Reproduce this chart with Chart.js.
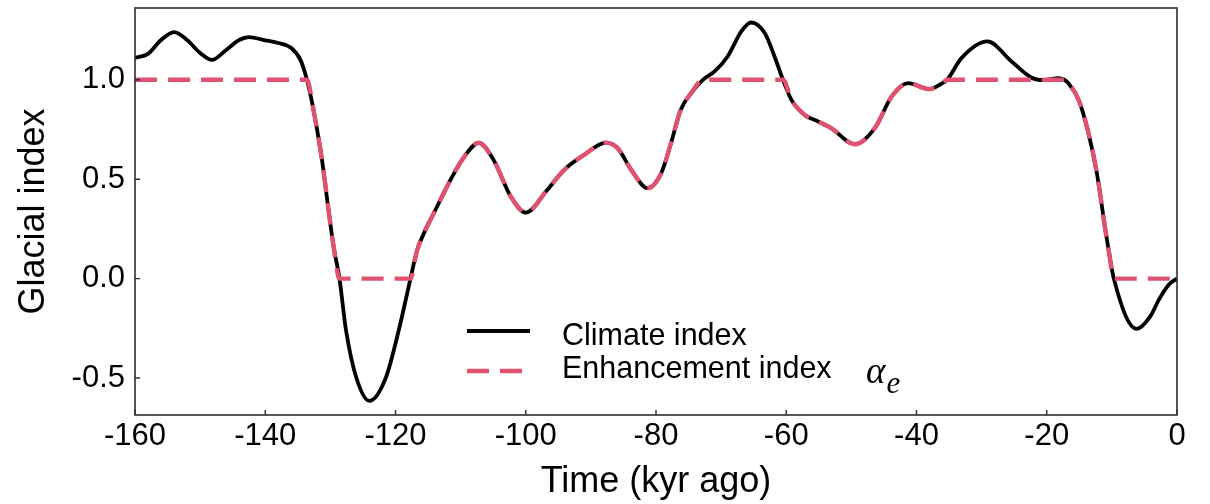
<!DOCTYPE html>
<html>
<head>
<meta charset="utf-8">
<script src="https://cdn.jsdelivr.net/npm/chart.js@4/dist/chart.umd.min.js"></script>
<style>
  html, body { margin: 0; padding: 0; background: #ffffff; }
  #wrap { width: 1210px; height: 504px; position: relative; }
</style>
</head>
<body>
<div id="wrap"><canvas id="c"></canvas></div>
<script>
// ---- data ----
const times = [-160, -158, -156, -154, -152, -150, -148.2, -146, -144, -142.5, -140, -138, -136, -134.6,
  -133.6, -132.6, -131.3, -130.3, -129.5, -128.6, -127.6, -126, -124, -121.5, -119.5, -117.7, -116.7,
  -115.4, -114.1, -111.5, -109.5, -107.2, -105, -102.3, -100, -96.7, -94.1, -91, -87.7, -85.9, -83.8,
  -81.3, -79.2, -77.7, -76.2, -74.6, -72.8, -71, -69, -66.9, -65.4, -63.3, -61.8, -60.5, -59.2, -57.2,
  -55.1, -53.1, -49.5, -46.4, -43.8, -41.3, -38, -36.2, -35.3, -33.1, -29.1, -25.4, -22.3, -20.5, -18.2,
  -17.3, -16.7, -15.1, -13.6, -12.3, -11, -10.5, -9.7, -6.2, -4.1, -2.8, -1.3, 0];

const climateIndex = [1.11, 1.13, 1.20, 1.24, 1.20, 1.135, 1.10, 1.15, 1.20, 1.215, 1.198, 1.185, 1.16, 1.10,
  1.00, 0.85, 0.60, 0.35, 0.16, 0.00, -0.26, -0.50, -0.615, -0.50, -0.26, 0.00, 0.14,
  0.245, 0.33, 0.50, 0.61, 0.683, 0.60, 0.413, 0.332, 0.446, 0.547, 0.623, 0.684, 0.656, 0.547,
  0.455, 0.53, 0.681, 0.849, 0.933, 1.00, 1.042, 1.117, 1.243, 1.288, 1.235, 1.117, 1.00, 0.899, 0.824,
  0.79, 0.757, 0.676, 0.757, 0.916, 0.983, 0.953, 0.98, 1.00, 1.109, 1.193, 1.092, 1.01, 0.998, 1.008,
  1.00, 0.983, 0.899, 0.732, 0.53, 0.245, 0.144, 0.00, -0.253, -0.19, -0.107, -0.032, 0.00];

const enhancementIndex = [1, 1, 1, 1, 1, 1, 1, 1, 1, 1, 1, 1, 1, 1,
  1.00, 0.85, 0.60, 0.35, 0.16, 0, 0, 0, 0, 0, 0, 0, 0.14,
  0.245, 0.33, 0.50, 0.61, 0.683, 0.60, 0.413, 0.332, 0.446, 0.547, 0.623, 0.684, 0.656, 0.547,
  0.455, 0.53, 0.681, 0.849, 0.933, 1.00, 1, 1, 1, 1, 1, 1, 1.00, 0.899, 0.824,
  0.79, 0.757, 0.676, 0.757, 0.916, 0.983, 0.953, 0.98, 1.00, 1, 1, 1, 1, 1, 1,
  1.00, 0.983, 0.899, 0.732, 0.53, 0.245, 0.144, 0.00, 0, 0, 0, 0, 0];

const xTicks = [-160, -140, -120, -100, -80, -60, -40, -20, 0];
const yTicks = [-0.5, 0.0, 0.5, 1.0];
const seriesNames = ['Climate index', 'Enhancement index'];

// ---- styles ----
const FONT = "'Liberation Sans', Arial, Helvetica, sans-serif";
const RED = '#e0526f';

const framePlugin = {
  id: 'frameAndLegend',
  afterDraw(chart) {
    const { ctx, chartArea: a, scales } = chart;
    const xs = scales.x, ys = scales.y;
    ctx.save();
    // frame
    ctx.strokeStyle = '#2e2e2e';
    ctx.lineWidth = 1.6;
    ctx.strokeRect(a.left, a.top, a.right - a.left, a.bottom - a.top);
    // inward ticks
    ctx.beginPath();
    ctx.lineWidth = 1.4;
    xs.ticks.forEach(t => {
      const p = xs.getPixelForValue(t.value);
      ctx.moveTo(p, a.bottom); ctx.lineTo(p, a.bottom - 5);
    });
    ys.ticks.forEach(t => {
      const p = ys.getPixelForValue(t.value);
      ctx.moveTo(a.left, p); ctx.lineTo(a.left + 5, p);
    });
    ctx.stroke();

    // legend (inside the axes, lower middle)
    const ds = chart.data.datasets;
    const sx0 = 467, sx1 = 530, tx = 562;
    ctx.beginPath();
    ctx.setLineDash([]);
    ctx.strokeStyle = ds[0].borderColor;
    ctx.lineWidth = ds[0].borderWidth;
    ctx.moveTo(sx0, 331); ctx.lineTo(sx1, 331);
    ctx.stroke();
    ctx.beginPath();
    ctx.setLineDash(ds[1].borderDash);
    ctx.strokeStyle = ds[1].borderColor;
    ctx.lineWidth = ds[1].borderWidth;
    ctx.moveTo(sx0, 371); ctx.lineTo(sx1, 371);
    ctx.stroke();
    ctx.setLineDash([]);

    ctx.fillStyle = '#000';
    ctx.textBaseline = 'alphabetic';
    ctx.textAlign = 'left';
    ctx.font = '30.5px ' + FONT;
    ctx.fillText(ds[0].label, tx, 345);
    ctx.fillText(ds[1].label, tx, 378);
    ctx.font = "italic 37px 'Liberation Serif', 'DejaVu Serif', serif";
    ctx.fillText('\u03B1', 866, 383);
    const wa = ctx.measureText('\u03B1').width;
    ctx.font = "italic 31px 'Liberation Serif', 'DejaVu Serif', serif";
    ctx.fillText('e', 866 + wa + 1, 393);
    ctx.restore();
  }
};

const pts = vals => times.map((t, i) => ({ x: t, y: vals[i] }));

new Chart(document.getElementById('c'), {
  type: 'line',
  data: {
    datasets: [
      {
        label: seriesNames[0],
        data: pts(climateIndex),
        borderColor: '#000000',
        borderWidth: 3.8,
        pointRadius: 0,
        fill: false,
        cubicInterpolationMode: 'monotone',
        order: 2
      },
      {
        label: seriesNames[1],
        data: pts(enhancementIndex),
        borderColor: RED,
        borderWidth: 4.4,
        borderDash: [22, 11],
        pointRadius: 0,
        fill: false,
        cubicInterpolationMode: 'monotone',
        order: 1
      }
    ]
  },
  options: {
    responsive: true,
    maintainAspectRatio: false,
    animation: false,
    devicePixelRatio: 1,
    layout: { padding: { top: 8, right: 33, left: 0, bottom: 0 } },
    plugins: { legend: { display: false }, tooltip: { enabled: false } },
    scales: {
      x: {
        type: 'linear',
        min: -160, max: 0,
        afterFit: s => { s.height = 89; s.paddingLeft = 0; s.paddingRight = 0; },
        afterBuildTicks: s => { s.ticks = xTicks.map(v => ({ value: v })); },
        grid: { display: false, drawTicks: false },
        border: { display: false },
        ticks: {
          padding: 3,
          color: '#000',
          font: { family: FONT, size: 31 },
          maxRotation: 0,
          callback: v => String(v)
        },
        title: {
          display: true,
          text: 'Time (kyr ago)',
          color: '#000',
          font: { family: FONT, size: 36 },
          padding: { top: 0, bottom: 0 }
        }
      },
      y: {
        type: 'linear',
        min: -0.686, max: 1.361,
        afterFit: s => { s.width = 135; s.paddingTop = 0; s.paddingBottom = 0; },
        afterBuildTicks: s => { s.ticks = yTicks.map(v => ({ value: v })); },
        grid: { display: false, drawTicks: false },
        border: { display: false },
        ticks: {
          padding: 10,
          color: '#000',
          font: { family: FONT, size: 31 },
          callback: v => Number(v).toFixed(1)
        },
        title: {
          display: true,
          text: 'Glacial index',
          color: '#000',
          font: { family: FONT, size: 36 },
          padding: { top: 12, bottom: 0 }
        }
      }
    }
  },
  plugins: [framePlugin]
});
</script>
</body>
</html>
